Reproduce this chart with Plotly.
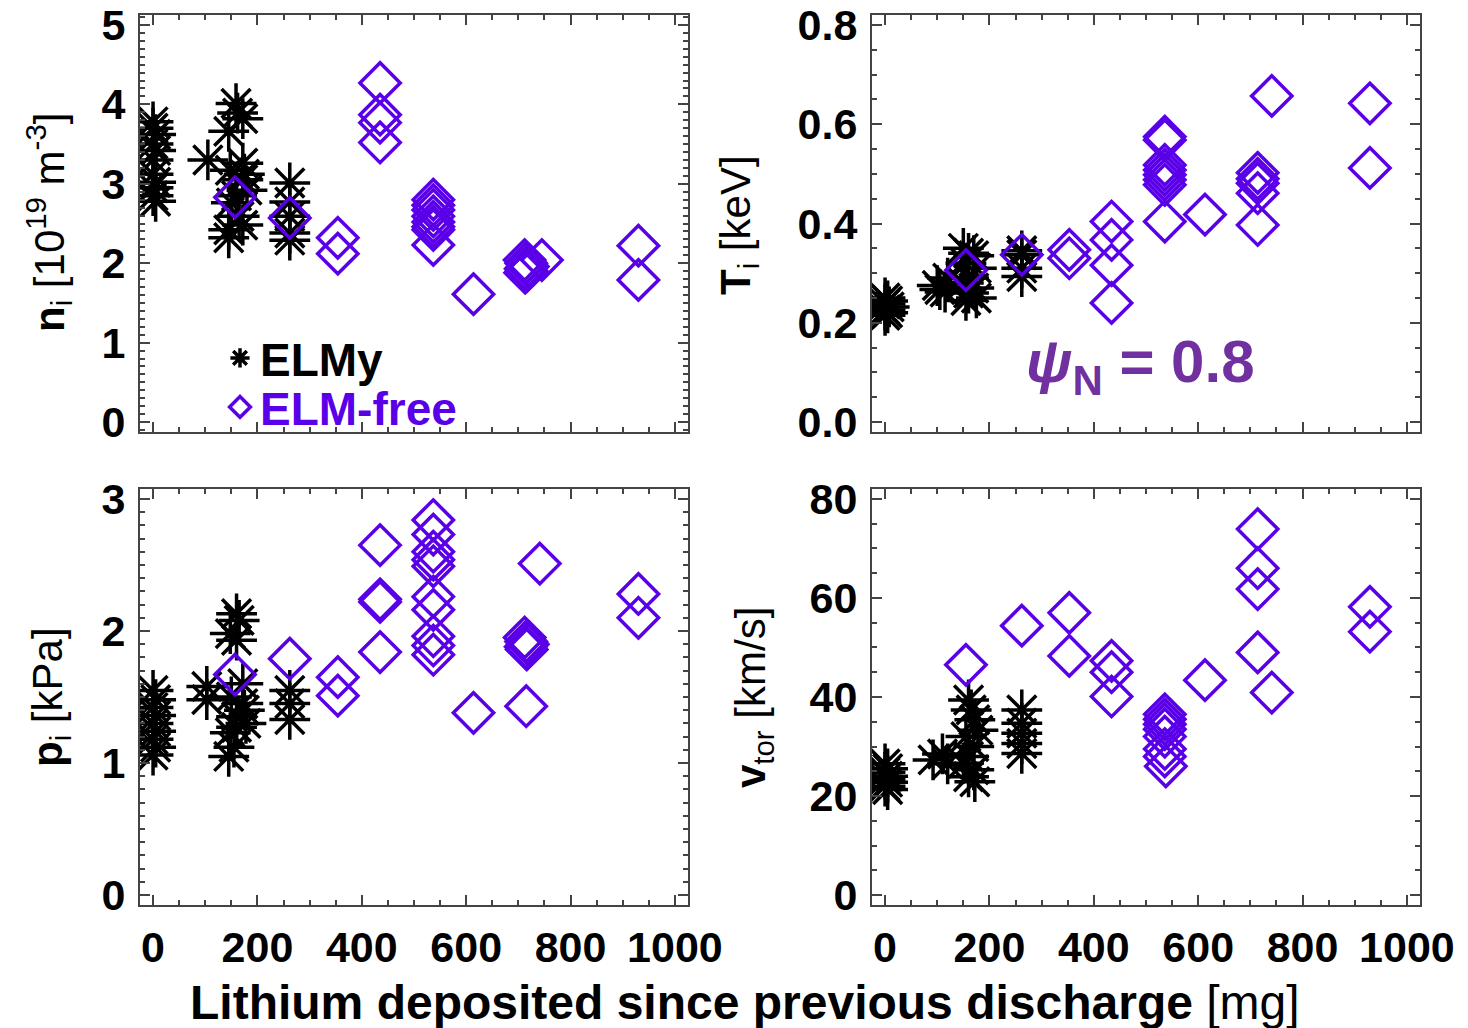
import plotly.graph_objects as go

# ---------------- data ----------------
# n_i [1e19 m^-3]
ni_elmy_x = [0, 0, 5, 0, 5, 0, 0, 5, 0, 0, 5,
             105,
             159, 162, 172, 145, 172, 148, 172, 180, 150, 165, 145, 145, 172, 175, 160,
             262, 262, 262, 262, 262]
ni_elmy_y = [3.78, 3.70, 3.62, 3.50, 3.42, 3.30, 3.12, 3.02, 2.95, 2.85, 2.78,
             3.30,
             4.01, 3.89, 3.82, 3.66, 3.26, 3.17, 3.05, 2.92, 2.76, 2.59, 2.42, 2.32, 2.48, 3.12, 2.85,
             3.01, 2.77, 2.59, 2.38, 2.29]
ni_free_x = [157, 262, 354, 354, 435, 435, 435, 435,
             537, 537, 537, 537, 537, 537, 537, 537,
             614, 712, 715, 718, 714, 716, 713, 745, 930, 930]
ni_free_y = [2.83, 2.57, 2.32, 2.12, 4.27, 3.87, 3.77, 3.52,
             2.80, 2.73, 2.67, 2.59, 2.52, 2.46, 2.42, 2.23,
             1.61, 2.04, 2.00, 1.96, 1.93, 1.90, 1.88, 2.04, 2.22, 1.79]

# T_i [keV]
ti_elmy_x = [0, 5, 0, 8, 0, 5, 0,
             100, 105, 115, 120,
             150, 160, 170, 155, 175, 160, 150, 170, 160, 175, 155,
             262, 262, 262, 262]
ti_elmy_y = [0.250, 0.244, 0.238, 0.232, 0.226, 0.220, 0.215,
             0.275, 0.267, 0.262, 0.290,
             0.350, 0.340, 0.335, 0.320, 0.310, 0.290, 0.280, 0.270, 0.260, 0.250, 0.245,
             0.345, 0.337, 0.310, 0.293]
ti_free_x = [155, 262, 353, 353, 434, 434, 434, 434,
             536, 536, 536, 536, 536, 536, 536, 536,
             613, 714, 714, 714, 714, 714, 741, 929, 929]
ti_free_y = [0.306, 0.337, 0.347, 0.330, 0.404, 0.367, 0.316, 0.240,
             0.575, 0.568, 0.518, 0.508, 0.498, 0.488, 0.478, 0.404,
             0.418, 0.502, 0.490, 0.481, 0.461, 0.397, 0.657, 0.642, 0.512]

# p_i [kPa]
pi_elmy_x = [0, 5, 0, 5, 0, 5, 0, 5, 0,
             103, 103,
             160, 165, 148, 160, 172, 150, 172, 160, 178, 148, 155, 145, 175, 160,
             262, 262, 262]
pi_elmy_y = [1.55, 1.48, 1.42, 1.36, 1.30, 1.24, 1.18, 1.12, 1.06,
             1.58, 1.48,
             2.13, 2.08, 1.98, 1.93, 1.60, 1.50, 1.45, 1.35, 1.30, 1.23, 1.12, 1.05, 1.40, 1.27,
             1.55, 1.45, 1.33]
pi_free_x = [157, 262, 354, 354, 435, 435, 435, 435,
             537, 537, 537, 537, 537, 537, 537, 537, 537, 537,
             614, 712, 715, 718, 714, 716, 715, 741, 930, 930]
pi_free_y = [1.67, 1.79, 1.65, 1.51, 2.65, 2.24, 2.22, 1.84,
             2.84, 2.73, 2.60, 2.54, 2.49, 2.26, 2.16, 1.96, 1.89, 1.82,
             1.38, 1.95, 1.92, 1.90, 1.88, 1.86, 1.43, 2.51, 2.28, 2.10]

# v_tor [km/s]
vt_elmy_x = [0, 5, 0, 5, 0, 5, 0, 5,
             92, 110, 120,
             160, 165, 172, 178, 155, 170, 160, 150, 170, 160, 172,
             262, 262, 262, 262, 262]
vt_elmy_y = [26.5, 25.5, 24.8, 24.0, 23.4, 22.8, 22.0, 21.3,
             27.3, 28.5, 26.5,
             39.4, 37.4, 35.4, 33.3, 32.0, 30.0, 28.0, 26.6, 25.3, 23.9, 22.9,
             37.4, 34.7, 32.7, 30.6, 28.6]
vt_free_x = [155, 262, 353, 353, 434, 434, 434,
             536, 536, 536, 536, 536, 536, 536, 538,
             613, 714, 714, 714, 714, 741, 929, 929]
vt_free_y = [46.5, 54.4, 57.0, 48.3, 47.3, 45.0, 40.1,
             36.5, 35.5, 34.5, 33.5, 32.0, 29.5, 28.0, 26.0,
             43.4, 73.9, 66.0, 61.8, 49.0, 40.9, 58.2, 53.2]

x_range = [-25, 1025]
x_ticks = [0, 200, 400, 600, 800, 1000]

# ---------------- style ----------------
FONT = "Liberation Sans, Arial, sans-serif"
PURPLE = "#5A00E8"
ANNOT = "#7030A0"
FRAME = "#444444"

fig = go.Figure()

panels = [
    ("x", "y", ni_elmy_x, ni_elmy_y, ni_free_x, ni_free_y),
    ("x2", "y2", ti_elmy_x, ti_elmy_y, ti_free_x, ti_free_y),
    ("x3", "y3", pi_elmy_x, pi_elmy_y, pi_free_x, pi_free_y),
    ("x4", "y4", vt_elmy_x, vt_elmy_y, vt_free_x, vt_free_y),
]

for i, (xa, ya, ex, ey, fx, fy) in enumerate(panels):
    fig.add_trace(go.Scatter(
        x=ex, y=ey, xaxis=xa, yaxis=ya, mode="markers", name="ELMy",
        showlegend=(i == 0), legend="legend",
        marker=dict(symbol="asterisk-open", size=34, color="black",
                    line=dict(width=3.5, color="black")),
        hoverinfo="skip"))
    fig.add_trace(go.Scatter(
        x=fx, y=fy, xaxis=xa, yaxis=ya, mode="markers", name="ELM-free",
        showlegend=(i == 0), legend="legend2",
        marker=dict(symbol="diamond-open", size=31, color=PURPLE,
                    line=dict(width=3.5, color=PURPLE)),
        hoverinfo="skip"))

W, H = 1468, 1028
def dx(a, b):
    return [a / W, b / W]
def dy(top, bottom):
    return [1 - bottom / H, 1 - top / H]

common = dict(
    showline=True, linecolor=FRAME, linewidth=2, mirror="allticks",
    ticks="inside", ticklen=10, tickwidth=1.5, tickcolor=FRAME,
    showgrid=False, zeroline=False, automargin=False,
    tickfont=dict(family=FONT, size=43, color="black", weight="bold"),
)

def xaxis(domain, anchor, labels):
    return dict(domain=domain, anchor=anchor, range=x_range, tickvals=x_ticks,
                showticklabels=labels, ticklabelstandoff=3,
                minor=dict(ticks="inside", ticklen=5, dtick=50, tickwidth=1.5,
                           tickcolor=FRAME),
                **common)

def yaxis(domain, anchor, rng, dtick, mdtick, fmt):
    return dict(domain=domain, anchor=anchor, range=rng, dtick=dtick,
                tick0=0, tickformat=fmt, ticklabelstandoff=4,
                minor=dict(ticks="inside", ticklen=5, dtick=mdtick, tickwidth=1.5,
                           tickcolor=FRAME),
                **common)

L = dx(140, 688)
R = dx(872, 1420)
T = dy(15, 432)
B = dy(489, 905)

fig.update_layout(
    width=W, height=H,
    margin=dict(l=0, r=0, t=0, b=0, autoexpand=False),
    paper_bgcolor="white", plot_bgcolor="white",
    font=dict(family=FONT, color="black"),
    xaxis=xaxis(L, "y", False),
    yaxis=yaxis(T, "x", [-0.125, 5.125], 1, 0.1, "d"),
    xaxis2=xaxis(R, "y2", False),
    yaxis2=yaxis(T, "x2", [-0.02, 0.82], 0.2, 0.05, ".1f"),
    xaxis3=xaxis(L, "y3", True),
    yaxis3=yaxis(B, "x3", [-0.075, 3.075], 1, 0.1, "d"),
    xaxis4=xaxis(R, "y4", True),
    yaxis4=yaxis(B, "x4", [-2, 82], 20, 5, "d"),
    legend=dict(x=220 / W, y=1 - 358 / H, xanchor="left", yanchor="middle",
                bgcolor="rgba(0,0,0,0)", borderwidth=0, itemsizing="trace",
                font=dict(family=FONT, size=46, color="black", weight="bold")),
    legend2=dict(x=220 / W, y=1 - 407 / H, xanchor="left", yanchor="middle",
                 bgcolor="rgba(0,0,0,0)", borderwidth=0, itemsizing="trace",
                 font=dict(family=FONT, size=46, color=PURPLE, weight="bold")),
)

ann = []
def ylab(text, x, y):
    ann.append(dict(text=text, x=x / W, y=1 - y / H, xref="paper", yref="paper",
                    textangle=-90, showarrow=False, xanchor="center", yanchor="middle",
                    font=dict(family=FONT, size=42, color="black")))

ylab("<b>n</b><sub>i</sub> [10<sup>19</sup> m<sup>-3</sup>]", 48, 222)
ylab("<b>T</b><sub>i</sub> [keV]", 738, 225)
ylab("<b>p</b><sub>i</sub> [kPa]", 50, 697)
ylab("<b>v</b><sub>tor</sub> [km/s]", 753, 698)

ann.append(dict(text="<b>Lithium deposited since previous discharge</b> [mg]",
                x=745 / W, y=1 - 1002 / H, xref="paper", yref="paper",
                showarrow=False, xanchor="center", yanchor="middle",
                font=dict(family=FONT, size=48, color="black")))

ann.append(dict(text="<b><i>ψ</i><sub>N</sub> = 0.8</b>",
                x=1140 / W, y=1 - 366 / H, xref="paper", yref="paper",
                showarrow=False, xanchor="center", yanchor="middle",
                font=dict(family=FONT, size=60, color=ANNOT)))

fig.update_layout(annotations=ann)

fig.write_html("out.html")
